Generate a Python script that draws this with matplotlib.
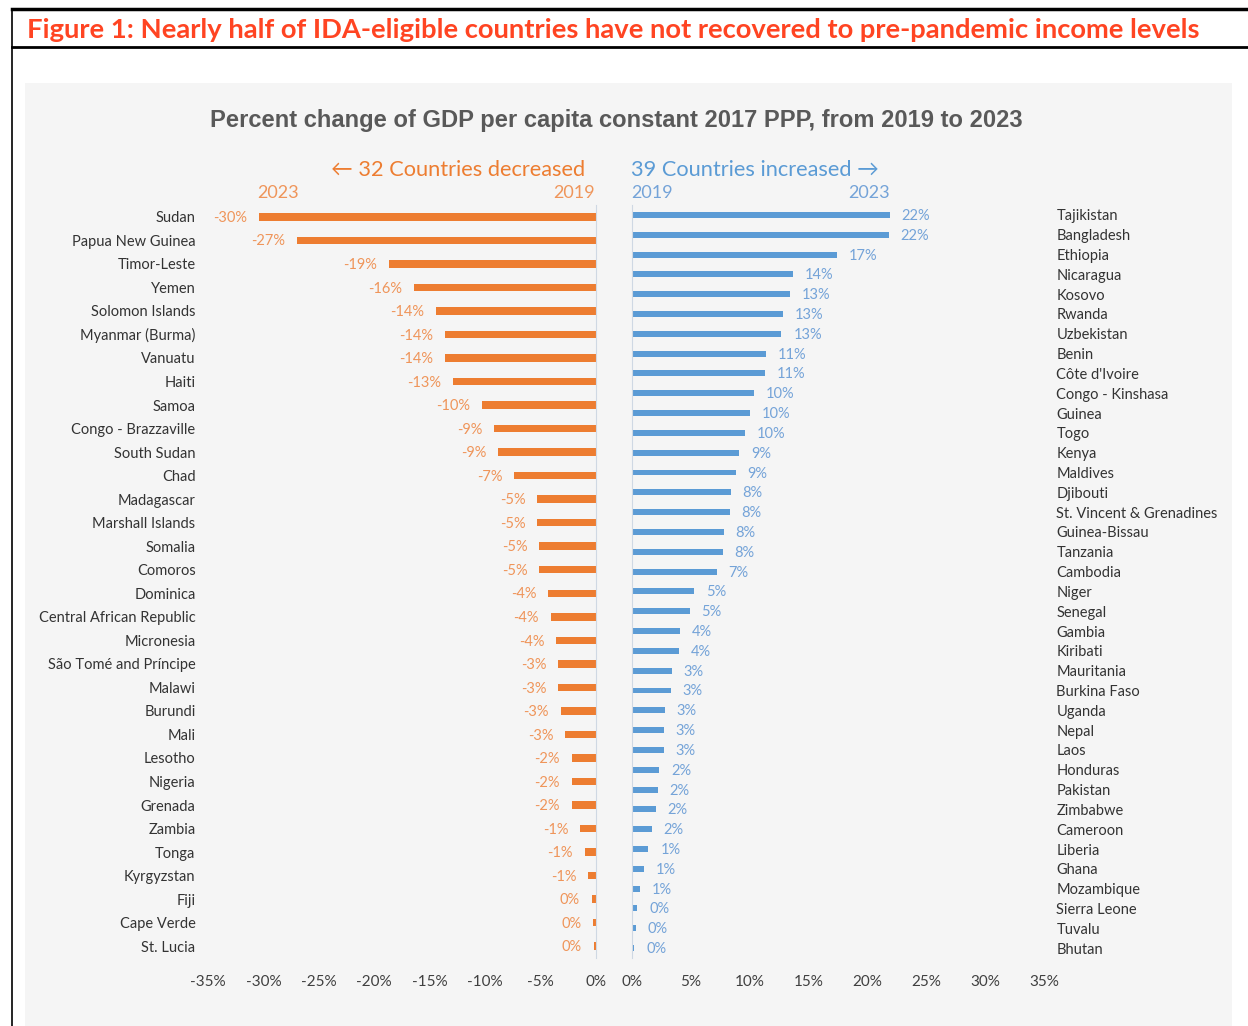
import matplotlib
matplotlib.use("Agg")
import matplotlib.pyplot as plt
from matplotlib.lines import Line2D
from matplotlib.patches import Rectangle

# countries whose GDP per capita fell 2019 -> 2023 (percent)
dec_countries = ["Sudan", "Papua New Guinea", "Timor-Leste", "Yemen", "Solomon Islands",
                 "Myanmar (Burma)", "Vanuatu", "Haiti", "Samoa", "Congo - Brazzaville",
                 "South Sudan", "Chad", "Madagascar", "Marshall Islands", "Somalia",
                 "Comoros", "Dominica", "Central African Republic", "Micronesia",
                 "São Tomé and Príncipe", "Malawi", "Burundi", "Mali", "Lesotho", "Nigeria",
                 "Grenada", "Zambia", "Tonga", "Kyrgyzstan", "Fiji", "Cape Verde", "St. Lucia"]
dec_values = [-30.4, -27.0, -18.7, -16.4, -14.4, -13.6, -13.6, -12.9, -10.3, -9.2,
              -8.8, -7.4, -5.3, -5.3, -5.1, -5.1, -4.3, -4.1, -3.6, -3.4,
              -3.4, -3.2, -2.8, -2.2, -2.2, -2.2, -1.4, -1.0, -0.7, -0.4, -0.25, -0.2]

# countries whose GDP per capita rose
inc_countries = ["Tajikistan", "Bangladesh", "Ethiopia", "Nicaragua", "Kosovo", "Rwanda",
                 "Uzbekistan", "Benin", "Côte d'Ivoire", "Congo - Kinshasa", "Guinea", "Togo",
                 "Kenya", "Maldives", "Djibouti", "St. Vincent & Grenadines", "Guinea-Bissau",
                 "Tanzania", "Cambodia", "Niger", "Senegal", "Gambia", "Kiribati", "Mauritania",
                 "Burkina Faso", "Uganda", "Nepal", "Laos", "Honduras", "Pakistan", "Zimbabwe",
                 "Cameroon", "Liberia", "Ghana", "Mozambique", "Sierra Leone", "Tuvalu", "Bhutan"]
inc_values = [21.9, 21.8, 17.4, 13.7, 13.4, 12.8, 12.7, 11.4, 11.3, 10.4, 10.0, 9.6,
              9.1, 8.8, 8.4, 8.3, 7.8, 7.7, 7.2, 5.3, 4.9, 4.1, 4.0, 3.4,
              3.3, 2.8, 2.7, 2.7, 2.3, 2.2, 2.0, 1.7, 1.4, 1.0, 0.7, 0.45, 0.3, 0.2]

dec_ticks = [-35, -30, -25, -20, -15, -10, -5, 0]
inc_ticks = [0, 5, 10, 15, 20, 25, 30, 35]

ORANGE = "#ED7D31"
ORANGE_TXT = "#EF955A"
BLUE = "#5B9BD5"
BLUE_TXT = "#74A3D8"
FONT = ["Lato", "DejaVu Sans"]

W, H = 1248, 1026
fig = plt.figure(figsize=(W / 100, H / 100), dpi=100)
fig.patch.set_facecolor("white")


def box(x0, y0, x1, y1):
    # pixel box (top-left origin) -> figure fraction rect
    return [x0 / W, 1 - y1 / H, (x1 - x0) / W, (y1 - y0) / H]


def fx(x):
    return x / W


def fy(y):
    return 1 - y / H


# frame and grey chart area
fig.add_artist(Rectangle((fx(25), fy(1026)), (1232 - 25) / W, (1026 - 83) / H, zorder=-5,
                         transform=fig.transFigure, facecolor="#F5F5F5", edgecolor="none"))
fig.add_artist(Line2D([fx(12), 1], [fy(9), fy(9)], transform=fig.transFigure, color="black", lw=2.5))
fig.add_artist(Line2D([fx(12), 1], [fy(47), fy(47)], transform=fig.transFigure, color="black", lw=2.0))
fig.add_artist(Line2D([fx(12), fx(12)], [fy(9), 0], transform=fig.transFigure, color="black", lw=1.2))

fig.text(fx(27), fy(30), "Figure 1: Nearly half of IDA-eligible countries have not recovered to pre-pandemic income levels",
         ha="left", va="center", fontsize=19.7, fontweight="bold", color="#FF4422", family=FONT)

fig.text(fx(616), fy(121), "Percent change of GDP per capita constant 2017 PPP, from 2019 to 2023",
         ha="center", va="center", fontsize=17.1, fontweight="bold", color="#595959",
         family="Liberation Sans")

fig.text(fx(585), fy(170), "← 32 Countries decreased", ha="right", va="center",
         fontsize=15.7, color=ORANGE, family=FONT)
fig.text(fx(631), fy(170), "39 Countries increased →", ha="left", va="center",
         fontsize=15.7, color=BLUE, family=FONT)
fig.text(fx(278), fy(193), "2023", ha="center", va="center", fontsize=13, color=ORANGE_TXT, family=FONT)
fig.text(fx(595), fy(193), "2019", ha="right", va="center", fontsize=13, color=ORANGE_TXT, family=FONT)
fig.text(fx(631), fy(193), "2019", ha="left", va="center", fontsize=13, color=BLUE_TXT, family=FONT)
fig.text(fx(890), fy(193), "2023", ha="right", va="center", fontsize=13, color=BLUE_TXT, family=FONT)

ax1 = fig.add_axes(box(208, 205, 596, 958))
ax2 = fig.add_axes(box(632, 205, 1044, 958))

for ax, names, vals, ticks, col, tcol, bh in [
        (ax1, dec_countries, dec_values, dec_ticks, ORANGE, ORANGE_TXT, 0.32),
        (ax2, inc_countries, inc_values, inc_ticks, BLUE, BLUE_TXT, 0.3)]:
    n = len(names)
    ys = list(range(n))
    ax.barh(ys, vals, height=bh, color=col)
    ax.set_facecolor("none")
    ax.set_ylim(n - 0.5, -0.5)
    ax.set_xlim(min(ticks), max(ticks))
    ax.set_xticks(ticks)
    ax.set_xticklabels([f"{t}%" for t in ticks], family=FONT, fontsize=11, color="#404040")
    ax.set_yticks(ys)
    ax.set_yticklabels(names, family=FONT, fontsize=10.5, color="#333333")
    ax.tick_params(length=0, axis="x", pad=12.5)
    ax.tick_params(length=0, axis="y", pad=9)
    for s in ax.spines.values():
        s.set_visible(False)
    for y, v in zip(ys, vals):
        lab = f"{round(v)}%"
        if v < 0:
            ax.annotate(lab, (v, y + 0.05), xytext=(-8.5, 0), textcoords="offset points",
                        ha="right", va="center", fontsize=10.5, color=tcol, family=FONT)
        else:
            ax.annotate(lab, (v, y + 0.05), xytext=(8.5, 0), textcoords="offset points",
                        ha="left", va="center", fontsize=10.5, color=tcol, family=FONT)

ax1.spines["right"].set_visible(True)
ax1.spines["right"].set_color("#CFD8E3")
ax2.spines["left"].set_visible(True)
ax2.spines["left"].set_color("#CFD8E3")
ax2.yaxis.tick_right()

fig.savefig("out.png", dpi=100)
